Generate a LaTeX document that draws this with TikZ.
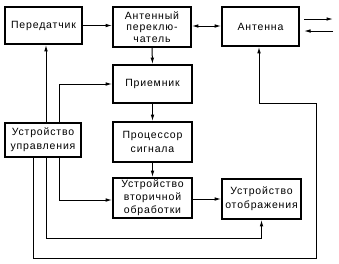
\documentclass[tikz,border=0pt]{standalone}
\usepackage{fontspec}
\setmainfont{Liberation Sans}[LetterSpace=8]
\usepackage{tikz}
\usetikzlibrary{arrows.meta, positioning}

\begin{document}
\begin{tikzpicture}[
    x=1pt, y=-1pt,
    >={Latex[length=6.5pt,width=3.6pt]},
    block/.style={rectangle, draw, line width=1.7pt, align=center, inner sep=0pt,
                  font=\fontsize{10.5}{11.5}\selectfont},
    link/.style={line width=1pt}
]
\useasboundingbox (0,0) rectangle (339,263);

% Nodes
\node[block, minimum width=77pt, minimum height=37pt] (tx)    at (43.5,25.5) {Передатчик};
\node[block, minimum width=78pt, minimum height=40pt] (sw)    at (152,27)    {Антенный\\переклю-\\чатель};
\node[block, minimum width=77pt, minimum height=39pt] (ant)   at (260.5,26.5) {Антенна};
\node[block, minimum width=79pt, minimum height=38pt] (rx)    at (152.5,84)  {Приемник};
\node[block, minimum width=79pt, minimum height=40pt,
      font=\fontsize{10.5}{14}\selectfont] (proc) at (152.5,142) {Процессор\\сигнала};
\node[block, minimum width=79pt, minimum height=40pt,
      font=\fontsize{10.5}{13}\selectfont] (sec)  at (152.5,198) {Устройство\\вторичной\\обработки};
\node[block, minimum width=79pt, minimum height=40pt,
      font=\fontsize{10.5}{14}\selectfont] (disp) at (261.5,199) {Устройство\\отображения};
\node[block, minimum width=76pt, minimum height=34pt,
      font=\fontsize{10.5}{14}\selectfont] (ctrl) at (43,140) {Устройство\\управления};

% Free ends
\coordinate (outA) at (304,19);
\coordinate (outB) at (333,19);
\coordinate (inA)  at (333,31);
\coordinate (inB)  at (304,31);
\coordinate (b1)   at (316,258);
\coordinate (b2)   at (316,103);

% Arrows
\draw[link, ->] (tx.east) -- (tx.east -| sw.west);
\draw[link, <->] (sw.east |- 0,26) -- (ant.west |- 0,26);
\draw[link, ->] (sw.south) -- (rx.north);
\draw[link, ->] (rx.south) -- (proc.north);
\draw[link, ->] (proc.south) -- (sec.north);
\draw[link, ->] (sec.east |- disp.west) -- (disp.west);
\draw[link, ->] (outA) -- (outB);
\draw[link, ->] (inA) -- (inB);

% Control lines
\draw[link, ->] ([xshift=3pt]ctrl.north) -- ([xshift=2.5pt]tx.south);
\draw[link, ->] ([xshift=16pt]ctrl.north) |- (rx.west);
\draw[link, ->] ([xshift=16pt]ctrl.south) |- ([yshift=-2pt]sec.west);
\draw[link, ->] ([xshift=3pt]ctrl.south) |- ([yshift=-19pt]disp.south) -- (disp.south);
\draw[link, ->] ([xshift=-10pt]ctrl.south) |- (b1) -- (b2) -| ([xshift=-1.5pt]ant.south);

\end{tikzpicture}
\end{document}
